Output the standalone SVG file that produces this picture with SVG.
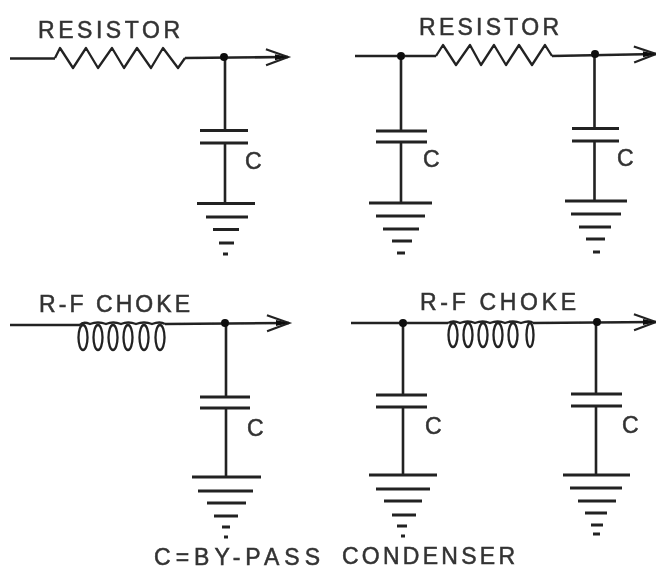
<svg xmlns="http://www.w3.org/2000/svg" width="656" height="569" viewBox="0 0 656 569">
<style>
.w{fill:none;stroke:#222;stroke-width:2.6;stroke-linecap:butt;stroke-linejoin:round}
.p{fill:none;stroke:#222;stroke-width:3}
.z{fill:none;stroke:#222;stroke-width:2.3;stroke-linejoin:round}
.d{fill:#111}
.t{font-family:"Liberation Sans",Arial,sans-serif;font-size:23px;fill:#333;stroke:#333;stroke-width:0.5}
.a{marker-end:url(#arrow)}
</style>
<defs>
<filter id="soft" x="0" y="0" width="100%" height="100%"><feGaussianBlur stdDeviation="0.7"/></filter>
<marker id="arrow" markerUnits="userSpaceOnUse" markerWidth="26" markerHeight="20" refX="24" refY="10" orient="auto" overflow="visible">
<path d="M2 2 L24 10 L2 18" fill="none" stroke="#222" stroke-width="2.200"/>
<path d="M11 7 L24 10 L11 13 Z" fill="#111"/>
</marker>
</defs>
<rect width="656" height="569" fill="#fff"/>
<g filter="url(#soft)">
<g id="connectors">
<path class="w" d="M10 58.500H55"/>
<path class="w a" d="M185 58L288 57"/>
<path class="w" d="M225 57V130M225 143V203"/>
<path class="w" d="M355 56H436"/>
<path class="w a" d="M552 56L656 54"/>
<path class="w" d="M401 56V131M401 142V203"/>
<path class="w" d="M594.500 54V128M594.500 141V201"/>
<path class="w" d="M10 325H80"/>
<path class="w a" d="M165 324L289 323"/>
<path class="w" d="M226 323V397M226 408V477"/>
<path class="w" d="M351 323H448"/>
<path class="w a" d="M533 323L656 322"/>
<path class="w" d="M403 323V395M403 407V475"/>
<path class="w" d="M596 322V394M596 406V475"/>
</g>
<g id="resistor-1"><path class="z" d="M55 58L60 48L73 68L86 48L98 68L112 48L124 68L137 48L151 68L163 48L178 68L185 58"/><text class="t" x="38" y="38" textLength="142">RESISTOR</text></g>
<g id="resistor-2"><path class="z" d="M436 56L443 45L456 65L470 45L481 65L494 45L506 65L519 45L532 65L545 45L552 56"/><text class="t" x="419" y="35" textLength="140">RESISTOR</text></g>
<g id="choke-1"><path class="z" d="M80 325Q83 321 90 324Q98 321 106 324Q113 321 121 324Q128 321 136 324Q144 321 152 324Q160 321 165 324"/>
<ellipse class="z" cx="83" cy="337.500" rx="4.500" ry="12.500"/><ellipse class="z" cx="98" cy="337.500" rx="4.500" ry="12.500"/><ellipse class="z" cx="113" cy="337.500" rx="4.500" ry="12.500"/><ellipse class="z" cx="128" cy="337.500" rx="4.500" ry="12.500"/><ellipse class="z" cx="144" cy="337.500" rx="4.500" ry="12.500"/><ellipse class="z" cx="160" cy="337.500" rx="4.500" ry="12.500"/>
<text class="t" x="39" y="312" textLength="151">R-F  CHOKE</text></g>
<g id="choke-2"><path class="z" d="M448 323Q453 320 460 323Q468 320 475 323Q483 320 490 323Q498 320 505 323Q513 320 521 323Q530 320 533 323"/>
<ellipse class="z" cx="453" cy="335" rx="4.500" ry="12"/><ellipse class="z" cx="468" cy="335" rx="4.500" ry="12"/><ellipse class="z" cx="483" cy="335" rx="4.500" ry="12"/><ellipse class="z" cx="498" cy="335" rx="4.500" ry="12"/><ellipse class="z" cx="513" cy="335" rx="4.500" ry="12"/><ellipse class="z" cx="530" cy="335" rx="3.500" ry="12"/>
<text class="t" x="420" y="310" textLength="156">R-F  CHOKE</text></g>
<g id="junctions"><circle class="d" cx="224" cy="57" r="4"/><circle class="d" cx="401" cy="56" r="4"/><circle class="d" cx="595" cy="54" r="4"/><circle class="d" cx="225" cy="323" r="4"/><circle class="d" cx="403" cy="323" r="4"/><circle class="d" cx="597" cy="322" r="4"/></g>
<g id="capacitor-1"><path class="p" d="M200 130.500H248M200 143H248"/><text class="t" x="245" y="169">C</text></g>
<g id="capacitor-2"><path class="p" d="M376 131H427M376 142H427"/><text class="t" x="423" y="167">C</text></g>
<g id="capacitor-3"><path class="p" d="M572 128.500H619M572 141H619"/><text class="t" x="617" y="166">C</text></g>
<g id="capacitor-4"><path class="p" d="M200 397H250M200 408H250"/><text class="t" x="247" y="436">C</text></g>
<g id="capacitor-5"><path class="p" d="M376 395H427M376 407H427"/><text class="t" x="425" y="434">C</text></g>
<g id="capacitor-6"><path class="p" d="M571 394H622M571 406H622"/><text class="t" x="622" y="433">C</text></g>
<g id="ground-1"><path class="p" d="M197 203.500H255M206 217H248M213 229.500H239M219 243H234M223 254H228"/></g>
<g id="ground-2"><path class="p" d="M369 203H432M376 216H425M383 229H419M392 241H412M397 253H405"/></g>
<g id="ground-3"><path class="p" d="M565 201H627M571 214H621M579 227H611M586 239H605M593 252H600"/></g>
<g id="ground-4"><path class="p" d="M192 477H261M198 491H253M207 503H246M214 516H238M222 527H230M224 537H228"/></g>
<g id="ground-5"><path class="p" d="M369 475H437M376 489H430M384 501H422M392 515H416M397 526H407M401 536H405"/></g>
<g id="ground-6"><path class="p" d="M563 475H630M570 488H622M578 501H616M585 513H607M591 525H603M593 534H600"/></g>
<g id="caption"><text class="t" x="154" y="565" textLength="166">C=BY-PASS</text><text class="t" x="342" y="564" textLength="173">CONDENSER</text></g>
</g>
</svg>
